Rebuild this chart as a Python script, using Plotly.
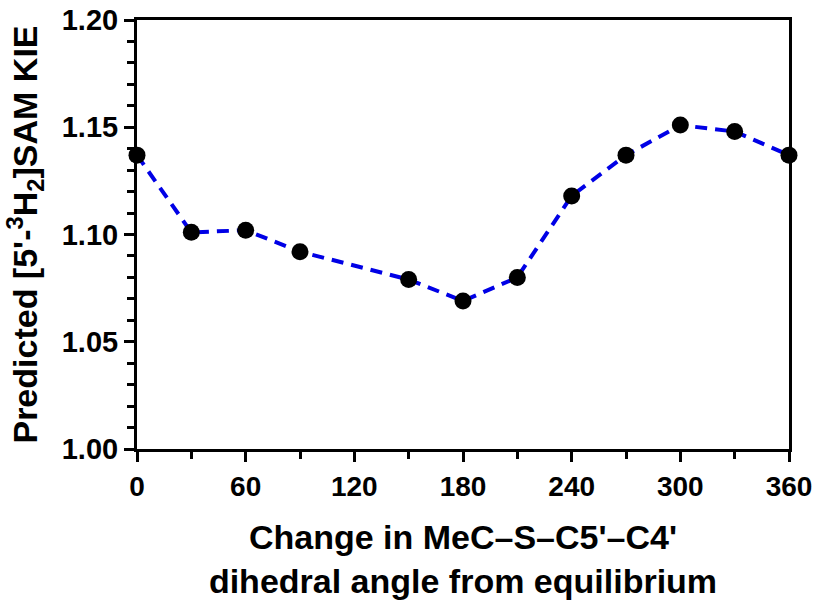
import plotly.graph_objects as go

# dihedral change (deg) and predicted KIE
angle = [0, 30, 60, 90, 150, 180, 210, 240, 270, 300, 330, 360]
kie = [1.137, 1.101, 1.102, 1.092, 1.079, 1.069, 1.080, 1.118, 1.137, 1.151, 1.148, 1.137]

x_ticks = [0, 60, 120, 180, 240, 300, 360]
y_ticks = [1.00, 1.05, 1.10, 1.15, 1.20]

fnt = "Liberation Sans, Arial, sans-serif"

fig = go.Figure()
fig.add_trace(go.Scatter(
    x=angle, y=kie, mode="lines+markers",
    line=dict(color="#0000e6", width=4, dash="12px,8px"),
    marker=dict(color="black", size=17),
    cliponaxis=False, showlegend=False))

fig.update_layout(
    width=820, height=608,
    paper_bgcolor="white", plot_bgcolor="white",
    margin=dict(l=137, r=31, t=20, b=159),
    font=dict(family=fnt, color="black"),
)
fig.update_xaxes(
    range=[0, 360], tickvals=x_ticks, ticktext=[str(v) for v in x_ticks],
    ticks="outside", ticklen=10, tickwidth=3, tickcolor="black",
    minor=dict(dtick=30, ticks="outside", ticklen=7, tickwidth=3, tickcolor="black"),
    showline=True, linewidth=3, linecolor="black", mirror=True,
    showgrid=False, zeroline=False, ticklabeloverflow="allow", automargin=False,
    tickfont=dict(size=28, family=fnt, weight="bold"),
    title=dict(text="Change in MeC\u2013S\u2013C5'\u2013C4'<br>dihedral angle from equilibrium",
               font=dict(size=34, family=fnt, weight="bold"), standoff=25),
)
fig.update_yaxes(
    range=[1.0, 1.2], tickvals=y_ticks, ticktext=["%.2f" % v for v in y_ticks],
    ticks="outside", ticklen=10, tickwidth=3, tickcolor="black",
    minor=dict(dtick=0.01, ticks="outside", ticklen=7, tickwidth=3, tickcolor="black"),
    showline=True, linewidth=3, linecolor="black", mirror=True,
    showgrid=False, zeroline=False, ticklabeloverflow="allow", automargin=False,
    tickfont=dict(size=29, family=fnt, weight="bold"),
    title=dict(text="Predicted [5'-<sup>3</sup>H<sub>2</sub>]SAM KIE",
               font=dict(size=34, family=fnt, weight="bold"), standoff=14),
)

# drop the browser's default 8px body margin so the figure fills the window
fig.write_html("out.html", config={"displayModeBar": False},
               post_script="document.body.style.margin='0';")
